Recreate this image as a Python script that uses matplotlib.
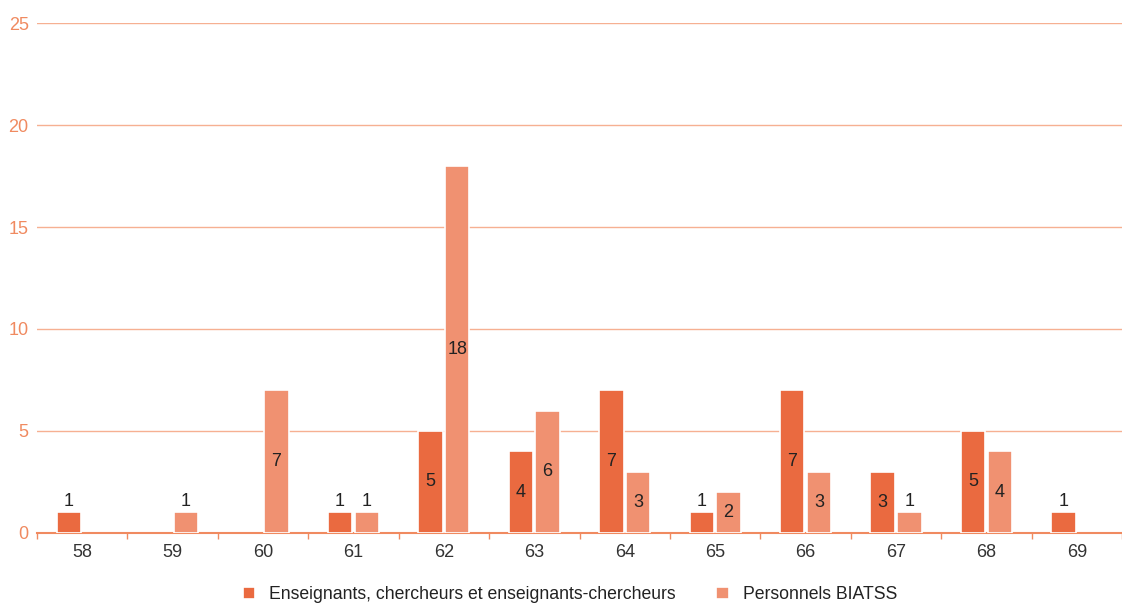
import numpy as np
import matplotlib.pyplot as plt

plt.rcParams['font.family'] = ['Liberation Sans', 'DejaVu Sans']

ages = ["58", "59", "60", "61", "62", "63", "64", "65", "66", "67", "68", "69"]
enseignants = [1, 0, 0, 1, 5, 4, 7, 1, 7, 3, 5, 1]
biatss = [0, 1, 7, 1, 18, 6, 3, 2, 3, 1, 4, 0]
series_names = ["Enseignants, chercheurs et enseignants-chercheurs", "Personnels BIATSS"]

C_ENS = "#EA6A40"
C_BIA = "#F09171"
C_AXIS = "#F08A60"

fig = plt.figure(figsize=(11.22, 6.09), dpi=100)
ax = fig.add_axes([0.033, 0.125, 0.967, 0.837])

x = np.arange(len(ages))
w = 0.27
off = 0.148

for vals, sign, color, name in [(enseignants, -1, C_ENS, series_names[0]),
                                (biatss, 1, C_BIA, series_names[1])]:
    vals = np.array(vals)
    keep = vals > 0
    ax.bar(x[keep] + sign * off, vals[keep], width=w, color=color, edgecolor="white",
           linewidth=1.2, zorder=3, label=name)
    for xi, v in zip(x[keep], vals[keep]):
        if v == 1:
            ax.text(xi + sign * off, v + 0.1, str(v), ha="center", va="bottom",
                    fontsize=13, color="#222222", zorder=4)
        else:
            ax.text(xi + sign * off, v / 2, str(v), ha="center", va="center",
                    fontsize=13, color="#222222", zorder=4)

ax.set_xlim(-0.5, len(ages) - 0.5)
ax.set_ylim(0, 25)
ax.set_yticks([0, 5, 10, 15, 20, 25])
ax.yaxis.grid(True, color="#F6B092", linewidth=1.0, zorder=1)
ax.set_axisbelow(True)

for s in ["top", "right", "left"]:
    ax.spines[s].set_visible(False)
ax.spines["bottom"].set_color(C_AXIS)
ax.spines["bottom"].set_linewidth(1.5)
ax.spines["bottom"].set_zorder(2)

ax.set_xticks(x)
ax.set_xticklabels(ages, fontsize=13, color="#333333")
ax.tick_params(axis="x", which="major", length=0, pad=8)
ax.set_xticks(np.arange(len(ages) + 1) - 0.5, minor=True)
ax.tick_params(axis="x", which="minor", length=4, color=C_AXIS, width=1)
ax.tick_params(axis="y", length=0, labelsize=13, labelcolor=C_AXIS, pad=6)

leg = fig.legend(loc="lower center", bbox_to_anchor=(0.508, -0.016), ncol=2, frameon=False,
                 fontsize=12.7, handlelength=0.7, handleheight=0.7, columnspacing=2.3,
                 handletextpad=0.8)
for t in leg.get_texts():
    t.set_color("#222222")

fig.savefig("out.png", dpi=100)
